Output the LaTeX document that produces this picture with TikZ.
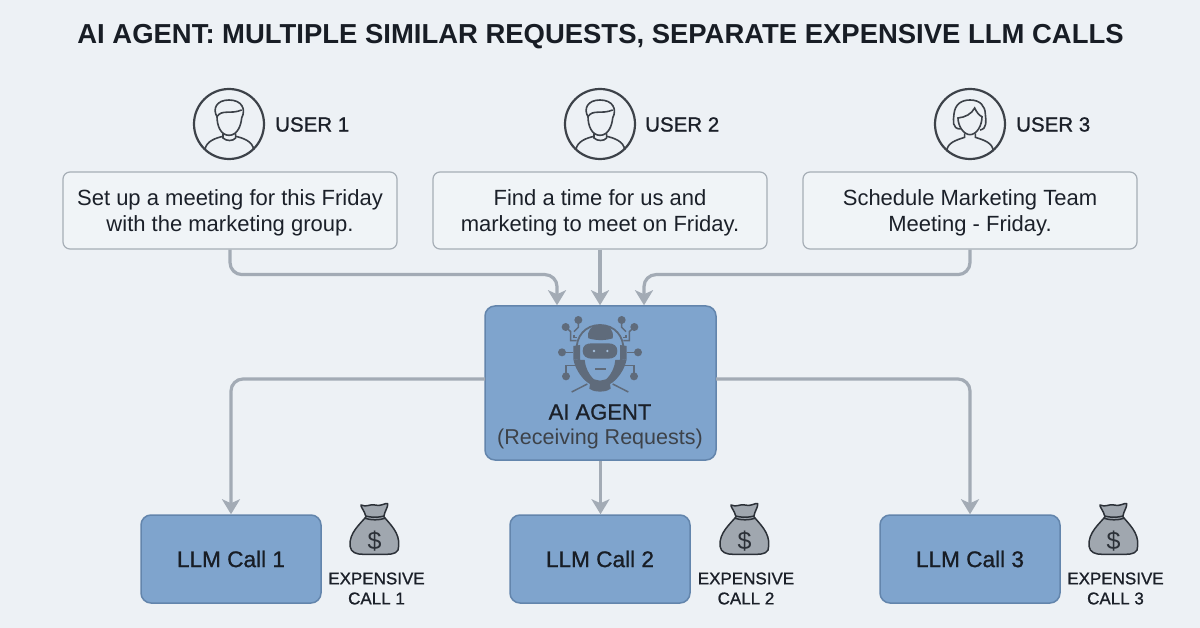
\documentclass[tikz,border=0pt]{standalone}
\usepackage{fontspec}
\setmainfont{Liberation Sans}
\newfontfamily\medfont[FakeBold=1.2]{Liberation Sans}
\newfontfamily\lightbold[FakeBold=1.0]{Liberation Sans}
\usetikzlibrary{arrows.meta,calc}
\definecolor{bgc}{HTML}{EDF1F5}
\definecolor{boxf}{HTML}{F0F4F7}
\definecolor{boxe}{HTML}{A6AEB6}
\definecolor{bluef}{HTML}{7FA4CD}
\definecolor{bluee}{HTML}{6385AC}
\definecolor{conn}{HTML}{A3ABB5}
\definecolor{ink}{HTML}{1B2029}
\definecolor{robot}{HTML}{5F6B7B}
\definecolor{bagf}{HTML}{A0A7AF}
\definecolor{bage}{HTML}{2C3138}
\newcommand{\iconbase}{\draw[ink!85,line width=2.2] (0,0) circle (105);}
\newcommand{\manicon}{%
  \iconbase
  \draw[ink!85,line width=1.6,line join=round]
    (-36,-22) .. controls (-50,-45) and (-38,-72) .. (0,-72)
    .. controls (38,-72) and (52,-45) .. (38,-18)
    .. controls (36,5) and (25,34) .. (0,34)
    .. controls (-25,34) and (-36,5) .. (-36,-22) -- cycle;
  \draw[ink!85,line width=1.6] (-36,-22) .. controls (-22,-45) and (5,-28) .. (38,-42);
  \draw[ink!85,line width=1.6] (-18,28) -- (-18,42) .. controls (-8,52) and (12,52) .. (20,42) -- (20,28);
  \draw[ink!85,line width=1.6] (-18,37) .. controls (-40,42) and (-70,52) .. (-72,78);
  \draw[ink!85,line width=1.6] (20,37) .. controls (42,42) and (72,52) .. (74,78);
}
\newcommand{\womanicon}{%
  \iconbase
  \draw[ink!85,line width=1.6,line join=round]
    (-28,15) .. controls (-55,15) and (-50,-10) .. (-48,-30)
    .. controls (-45,-60) and (-25,-72) .. (0,-72)
    .. controls (30,-72) and (45,-55) .. (46,-30)
    .. controls (48,-10) and (52,15) .. (30,18);
  \draw[ink!85,line width=1.6] (-36,-18) .. controls (-15,-20) and (5,-30) .. (14,-48)
    .. controls (20,-35) and (28,-25) .. (36,-22)
    .. controls (36,5) and (20,32) .. (0,32) .. controls (-20,32) and (-36,5) .. (-36,-18) -- cycle;
  \draw[ink!85,line width=1.6] (-16,28) -- (-16,40) .. controls (-40,48) and (-68,55) .. (-70,82);
  \draw[ink!85,line width=1.6] (16,28) -- (16,40) .. controls (40,48) and (68,55) .. (70,82);
}
\newcommand{\bagicon}{%
  \draw[bage,line width=1.5,fill=bagf,line join=round]
    (-25,-45) .. controls (-45,-20) and (-78,5) .. (-75,45)
    .. controls (-73,65) and (-55,70) .. (-35,70)
    -- (35,70) .. controls (55,70) and (73,65) .. (71,45)
    .. controls (75,5) and (45,-20) .. (25,-45) -- cycle;
  \draw[bage,line width=1.5,fill=bagf,line join=round]
    (-28,-45) .. controls (-30,-58) and (-45,-75) .. (-42,-78)
    .. controls (-25,-70) and (-15,-82) .. (0,-78)
    .. controls (15,-72) and (30,-85) .. (38,-82)
    .. controls (40,-72) and (28,-58) .. (27,-45)
    .. controls (10,-40) and (-10,-40) .. (-28,-45) -- cycle;
  \draw[bage,line width=1.5] (-30,-38) .. controls (-10,-32) and (10,-32) .. (30,-38);
}
\tikzset{
  reqbox/.style={draw=boxe,fill=boxf,line width=1.2,rounded corners=7,minimum width=334,minimum height=77,align=center,inner sep=0,font=\fontsize{22}{26}\selectfont,text=ink,text depth=0},
  bluebox/.style={draw=bluee,fill=bluef,line width=1.5,rounded corners=10,inner sep=0},
  usertext/.style={font=\lightbold\fontsize{20.5}{26}\selectfont,text=ink,anchor=west,inner sep=0},
  costtext/.style={font=\lightbold\fontsize{17}{20}\selectfont,text=ink,align=center,inner sep=0},
  llmtext/.style={font=\lightbold\fontsize{22.6}{26}\selectfont,text=ink!90!black},
  flow/.style={draw=conn,line width=3.2,rounded corners=12,-{Stealth[length=15,width=18,inset=4]}},
  wire/.style={draw=robot,line width=1.5},
  dot/.style={fill=robot,draw=none},
  dollar/.style={font=\fontsize{25}{27}\selectfont,text=bage,inner sep=0}
}
\begin{document}
\begin{tikzpicture}[x=1pt,y=-1pt]
\useasboundingbox (0,0) rectangle (1200,628);
\fill[bgc] (0,0) rectangle (1200,628);

\node[font=\bfseries\fontsize{27.45}{30}\selectfont,text=ink!90!black,inner sep=0] (title) at (600.5,37) {AI AGENT: MULTIPLE SIMILAR REQUESTS, SEPARATE EXPENSIVE LLM CALLS};

% users
\begin{scope}[shift={(229,124)},scale=1/3]\manicon\end{scope}
\begin{scope}[shift={(600,124)},scale=1/3]\manicon\end{scope}
\begin{scope}[shift={(970,124)},scale=1/3]\womanicon\end{scope}
\node[usertext] (n1) at (275,124.5) {USER 1};
\node[usertext] (n2) at (645,124.5) {USER 2};
\node[usertext] (n3) at (1016,124.5) {USER 3};

% request boxes
\node[reqbox] (u1) at (230,210.5) {Set up a meeting for this Friday\\with the marketing group.};
\node[reqbox] (u2) at (600,210.5) {Find a time for us and\\marketing to meet on Friday.};
\node[reqbox] (u3) at (970,210.5) {Schedule Marketing Team\\Meeting - Friday.};

% agent
\node[bluebox,minimum width=231,minimum height=154] (agent) at (600.5,383) {};
\coordinate (inL) at ($(agent.north)+(-43.5,0)$);
\coordinate (inR) at ($(agent.north)+(43.5,0)$);
\coordinate (outL) at (485,379);
\coordinate (outR) at (716,379);

% robot
\begin{scope}[shift={(480,270)},scale=1/3]
  \foreach \s in {-1,1}{
    \begin{scope}[shift={(360,0)},xscale=\s]
      \fill[dot] (65,150) circle (12);
      \fill[dot] (103,171) circle (12);
      \fill[dot] (114,247) circle (12);
      \fill[dot] (102,319) circle (12);
      \draw[wire] (65,150) -- (65,172) -- (78,185);
      \draw[wire] (103,171) -- (88,185) -- (88,212) -- (70,212);
      \draw[wire] (114,247) -- (80,247);
      \draw[wire] (102,319) -- (102,287) -- (72,287);
      \draw[wire] (78,195) -- (78,203) -- (68,203);
      \draw[wire] (38,342) -- (85,366);
      % head shell
      \fill[robot] (60,225) -- (80,228) -- (80,268) -- (60,270) -- cycle;
      \fill[robot] (80,268) .. controls (74,300) and (50,332) .. (30,342) -- (32,356) .. controls (20,364) and (10,365) .. (0,365) -- (0,332) -- (18,328) .. controls (36,312) and (44,290) .. (46,270) -- cycle;
      \draw[robot,line width=1.8] (0,165) .. controls (45,165) and (72,200) .. (70,240);
    \end{scope}
  }
  \fill[robot] (325,205) .. controls (320,180) and (335,165) .. (362,165) .. controls (390,165) and (402,180) .. (398,205) .. controls (375,212) and (350,212) .. (325,205) -- cycle;
  \fill[robot] (308,243) .. controls (308,225) and (320,220) .. (335,220) -- (385,220) .. controls (402,220) and (412,228) .. (412,243) .. controls (412,258) and (402,266) .. (385,266) -- (335,266) .. controls (320,266) and (308,258) .. (308,243) -- cycle;
  \fill[bluef!70!white] (342,243) circle (4);
  \fill[bluef!70!white] (382,243) circle (4);
  \draw[robot,line width=1.2] (345,297) -- (378,297);
\end{scope}

\node[font=\lightbold\fontsize{22}{26}\selectfont,text=ink,inner sep=0] (at1) at (600,412) {AI AGENT};
\node[font=\fontsize{21.5}{25}\selectfont,text=ink!85,inner sep=0] (at2) at (600,439) {(Receiving Requests)};

% llm boxes
\node[bluebox,minimum width=180,minimum height=88,llmtext] (l1) at (231,559) {LLM Call 1};
\node[bluebox,minimum width=180,minimum height=88,llmtext] (l2) at (600,559) {LLM Call 2};
\node[bluebox,minimum width=180,minimum height=88,llmtext] (l3) at (970,559) {LLM Call 3};

% bags
\begin{scope}[shift={(375,531)},scale=1/3]\bagicon\end{scope}
\begin{scope}[shift={(745,531)},scale=1/3]\bagicon\end{scope}
\begin{scope}[shift={(1114,531)},scale=1/3]\bagicon\end{scope}
\node[dollar] (d1) at (374.5,541) {\$};
\node[dollar] (d2) at (744.5,541) {\$};
\node[dollar] (d3) at (1113.5,541) {\$};
\node[costtext] (c1) at (376.5,588.5) {EXPENSIVE\\CALL 1};
\node[costtext] (c2) at (746,588.5) {EXPENSIVE\\CALL 2};
\node[costtext] (c3) at (1115.5,588.5) {EXPENSIVE\\CALL 3};

% connectors
\draw[flow] (u1.south) -- ++(0,25) -| (inL);
\draw[flow] (u2.south) -- (u2.south |- agent.north);
\draw[flow] (u3.south) -- ++(0,25) -| (inR);
\draw[flow] (outL) -| (l1.north);
\draw[flow] (agent.south) -- (agent.south |- l2.north);
\draw[flow] (outR) -| (l3.north);
\end{tikzpicture}
\end{document}
